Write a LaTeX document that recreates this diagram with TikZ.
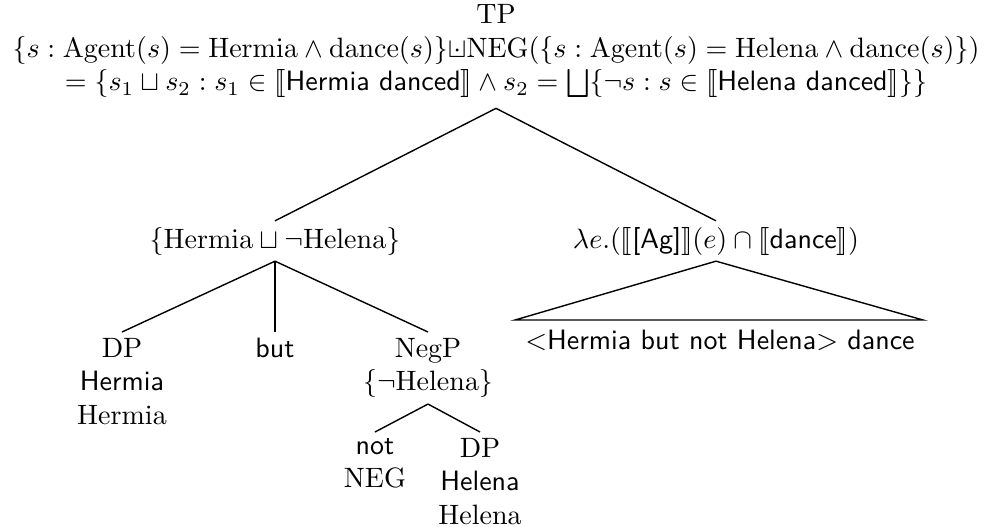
\documentclass[tikz,border=0pt]{standalone}
\usepackage{amsmath}
\usepackage{stmaryrd}
\newcommand{\sqcupdotx}{\mathord{\ooalign{$\sqcup$\cr\hidewidth$\cdot$\hidewidth\cr}}}
\tikzset{
  lbl/.style={inner sep=2pt, align=center, font=\normalsize},
  br/.style={draw=black, line width=0.5pt},
}
\begin{document}
\begin{tikzpicture}[x=0.35714pt, y=-0.35714pt]
\useasboundingbox (0,0) rectangle (989,526);
% root
\node[lbl, anchor=north] (tp) at (496,-1.5)
  {TP\\
   $\{s:\mathrm{Agent}(s)=\mathrm{Hermia}\wedge\mathrm{dance}(s)\}\sqcupdotx\mathrm{NEG}(\{s:\mathrm{Agent}(s)=\mathrm{Helena}\wedge\mathrm{dance}(s)\})$\\
   $=\{s_1\sqcup s_2:s_1\in\llbracket\textsf{Hermia danced}\rrbracket\wedge s_2=\bigsqcup\{\neg s:s\in\llbracket\textsf{Helena danced}\rrbracket\}\}$};
% second level
\node[lbl] (left) at (275,241) {$\{\mathrm{Hermia}\sqcup\neg\mathrm{Helena}\}$};
\node[lbl] (right) at (716,241) {$\lambda e.(\llbracket\textsf{[Ag]}\rrbracket(e)\cap\llbracket\textsf{dance}\rrbracket)$};
% triangle
\coordinate (triL) at (515,320);
\coordinate (triR) at (923,320);
\node[lbl, anchor=north] (tritext) at (720,324) {$<$\textsf{Hermia but not Helena}$>$ \textsf{dance}};
% leaves
\node[lbl, anchor=north] (dp1) at (122,332) {DP\\\textsf{Hermia}\\Hermia};
\node[lbl, anchor=north] (but) at (275,332) {\textsf{but}};
\node[lbl, anchor=north] (negp) at (428,332) {NegP\\$\{\neg\mathrm{Helena}\}$};
\node[lbl, anchor=north] (not) at (375,432) {\textsf{not}\\NEG};
\node[lbl, anchor=north] (dp2) at (480,432) {DP\\\textsf{Helena}\\Helena};
% branches
\draw[br] ([yshift=-1.5pt]tp.south) -- (left.north);
\draw[br] ([yshift=-1.5pt]tp.south) -- (right.north);
\draw[br] (left.south) -- (dp1.north);
\draw[br] (left.south) -- (but.north);
\draw[br] (left.south) -- (negp.north);
\draw[br] (negp.south) -- (not.north);
\draw[br] (negp.south) -- (dp2.north);
\draw[br] (right.south) -- (triL) -- (triR) -- cycle;
\end{tikzpicture}
\end{document}
